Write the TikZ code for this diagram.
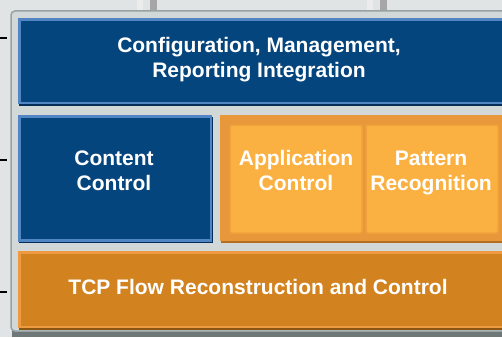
\documentclass[tikz,border=0pt]{standalone}
\usepackage{fontspec}
\setmainfont{Liberation Sans}
\definecolor{bgout}{HTML}{E0E4E4}
\definecolor{panel}{HTML}{D2D8D8}
\definecolor{panelline}{HTML}{98A2A2}
\definecolor{panelshadow}{HTML}{6E7878}
\definecolor{bluefill}{HTML}{05457D}
\definecolor{bluelight}{HTML}{5285C4}
\definecolor{bluedark}{HTML}{022E58}
\definecolor{orgroup}{HTML}{E8983A}
\definecolor{orgroupdark}{HTML}{B07020}
\definecolor{orinner}{HTML}{FBB142}
\definecolor{orinnerline}{HTML}{EFA23A}
\definecolor{tcpfill}{HTML}{D2821F}
\definecolor{tcplight}{HTML}{EE9A42}
\definecolor{tcpdark}{HTML}{8A5612}
\begin{document}
\begin{tikzpicture}[x=1pt,y=-1pt,
  lbl/.style={text=white,font=\bfseries\fontsize{21}{25}\selectfont,align=center,inner sep=0pt},
  bluebox/.style={fill=bluefill,draw=bluelight,line width=2.5pt},
  innerbox/.style={fill=orinner,draw=orinnerline,line width=1.5pt,rounded corners=2pt},
  tick/.style={black,line width=1.4pt}]
\useasboundingbox (0,0) rectangle (502,337);
\fill[bgout] (0,0) rectangle (502,337);
% top stubs
\fill[white!85!gray] (137,0) rectangle (143,12);
\fill[gray!70] (150,0) rectangle (157,12);
\fill[white!85!gray] (367,0) rectangle (373,12);
\fill[gray!70] (380,0) rectangle (387,12);
% outer panel
\fill[panelshadow] (12,14) rectangle (504,337);
\fill[panel,draw=panelline,line width=1.5pt,rounded corners=4pt] (11,11) rectangle (506,331);
% left ticks
\coordinate (t1a) at (0,38); \coordinate (t1b) at (7,38);
\coordinate (t2a) at (0,160); \coordinate (t2b) at (7,160);
\coordinate (t3a) at (0,292); \coordinate (t3b) at (7,292);
\draw[tick] (t1a) -- (t1b);
\draw[tick] (t2a) -- (t2b);
\draw[tick] (t3a) -- (t3b);
% top blue box
\fill[bluedark] (19,20) rectangle (504,106);
\draw[bluebox] (19.5,19.5) rectangle (506,103);
\node[lbl] (cfg) at (259,60) {Configuration, Management,\strut\\Reporting Integration\strut};
% content control
\fill[bluedark] (19,117) rectangle (213,243);
\draw[bluebox] (19.5,116.5) rectangle (211,240.5);
\node[lbl] (cc) at (114,172.5) {Content\strut\\Control\strut};
% orange group
\fill[orgroupdark] (221,117) rectangle (504,243);
\fill[orgroup] (220,115) rectangle (506,240.5);
\draw[innerbox] (230,125) rectangle (362,233);
\draw[innerbox] (366,125) rectangle (498,233);
\node[lbl] (app) at (296,172.5) {Application\strut\\Control\strut};
\node[lbl] (pat) at (431,172.5) {Pattern\strut\\Recognition\strut};
% TCP box
\fill[tcpdark] (19,254) rectangle (504,330);
\fill[tcpfill,draw=tcplight,line width=2.5pt] (19.5,252.5) rectangle (506,327);
\node[lbl] (tcp) at (258,289.5) {TCP Flow Reconstruction and Control\strut};
\end{tikzpicture}
\end{document}
